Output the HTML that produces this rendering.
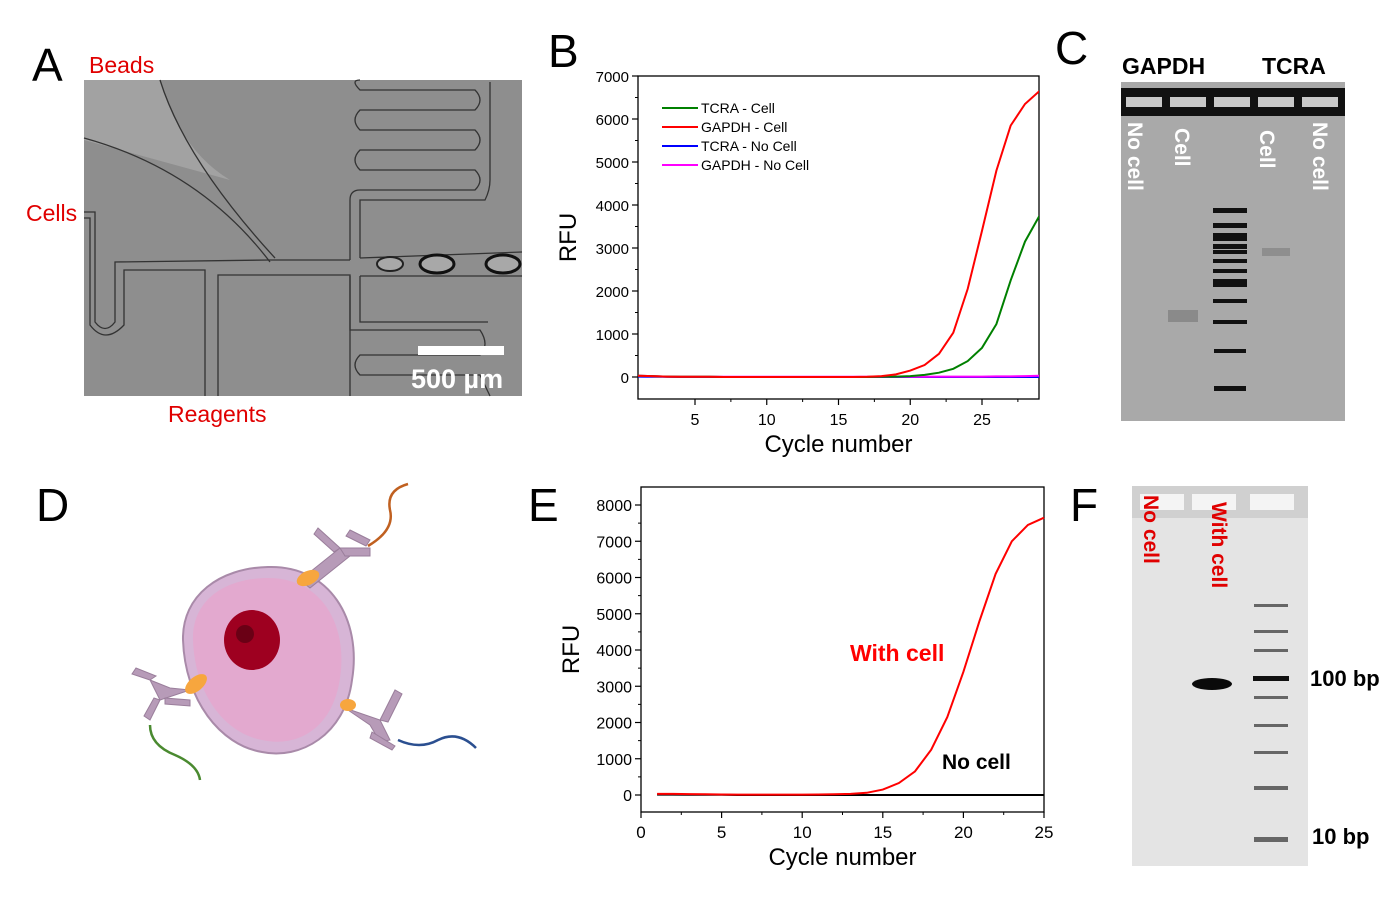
<!DOCTYPE html>
<html><head><meta charset="utf-8"><style>
body{margin:0;background:#fff;width:1398px;height:919px;overflow:hidden;font-family:"Liberation Sans",Arial,sans-serif}
svg text{font-family:"Liberation Sans",Arial,sans-serif}
</style></head><body>
<svg id="fig" width="1398" height="919" viewBox="0 0 1398 919" xmlns="http://www.w3.org/2000/svg">
<!-- Panel A -->
<g>
<text x="32" y="81" font-size="46" fill="#000">A</text>
<text x="89" y="73" font-size="23" fill="#e00000">Beads</text>
<text x="26" y="221" font-size="23" fill="#e00000">Cells</text>
<text x="168" y="422" font-size="23" fill="#e00000">Reagents</text>
<rect x="84" y="80" width="438" height="316" fill="#8e8e8e"/>
<path d="M84,80 L160,80 Q180,150 230,180 L84,140Z" fill="#a2a2a2"/>
<g fill="none" stroke="#333" stroke-width="1.3">
<path d="M160,80 Q185,160 275,258"/>
<path d="M84,138 Q200,170 270,262"/>
<path d="M84,212 L95,212 L95,322 Q105,335 115,322 L115,262 L270,260 L350,260"/>
<path d="M84,218 L90,218 L90,325 Q105,345 124,325 L124,270 L205,270 L205,396"/>
<path d="M218,396 L218,275 L350,275 L350,396"/>
<path d="M350,260 L350,200 Q350,190 360,190 L475,190 Q485,180 475,170 L360,170 Q350,160 360,150 L475,150 Q485,140 475,130 L360,130 Q350,120 360,110 L475,110 Q485,100 475,90 L360,90 Q350,80 360,80"/>
<path d="M360,258 L360,200 L485,200 Q490,190 490,180 L490,82"/>
<path d="M360,258 L522,252 M360,276 L522,276"/>
<path d="M350,276 L350,330 L480,330 Q490,345 480,355 L360,355 Q350,365 360,375 L480,375 L490,396"/>
<path d="M360,276 L360,322 L488,322"/>
</g>
<ellipse cx="437" cy="264" rx="17" ry="9" fill="#a8a8a8" stroke="#111" stroke-width="3"/>
<ellipse cx="503" cy="264" rx="17" ry="9" fill="#a8a8a8" stroke="#111" stroke-width="3"/>
<ellipse cx="390" cy="264" rx="13" ry="7" fill="#a8a8a8" stroke="#222" stroke-width="2"/>
<rect x="418" y="346" width="86" height="9" fill="#fff"/>
<text x="411" y="388" font-size="27" font-weight="bold" fill="#fff">500 µm</text>
</g>

<!-- Panel B -->
<g>
<text x="548" y="67" font-size="46">B</text>
<g id="chartB"></g>
</g>

<!-- Panel C -->
<g>
<text x="1055" y="64" font-size="46">C</text>
<text x="1122" y="74" font-size="23" font-weight="bold">GAPDH</text>
<text x="1262" y="74" font-size="23" font-weight="bold">TCRA</text>
<rect x="1121" y="82" width="224" height="339" fill="#a9a9a9"/>
<rect x="1121" y="88" width="224" height="28" fill="#111"/>
<g fill="#c8c8c8"><rect x="1126" y="97" width="36" height="10"/><rect x="1170" y="97" width="36" height="10"/><rect x="1214" y="97" width="36" height="10"/><rect x="1258" y="97" width="36" height="10"/><rect x="1302" y="97" width="36" height="10"/></g>
<g fill="#fff" font-size="21" font-weight="bold">
<text transform="translate(1128,122) rotate(90)">No cell</text>
<text transform="translate(1175,128) rotate(90)">Cell</text>
<text transform="translate(1260,130) rotate(90)">Cell</text>
<text transform="translate(1313,122) rotate(90)">No cell</text>
</g>
<g fill="#111">
<rect x="1213" y="208" width="34" height="5"/><rect x="1213" y="223" width="34" height="5"/><rect x="1213" y="233" width="34" height="8"/><rect x="1213" y="244" width="34" height="5"/><rect x="1213" y="250" width="34" height="4"/><rect x="1213" y="259" width="34" height="4"/><rect x="1213" y="269" width="34" height="4"/><rect x="1213" y="279" width="34" height="8"/><rect x="1213" y="299" width="34" height="4"/><rect x="1213" y="320" width="34" height="4"/><rect x="1214" y="349" width="32" height="4"/><rect x="1214" y="386" width="32" height="5"/>
</g>
<rect x="1168" y="310" width="30" height="12" fill="#8a8a8a"/>
<rect x="1262" y="248" width="28" height="8" fill="#8e8e8e"/>
</g>

<!-- Panel D -->
<g>
<text x="36" y="521" font-size="46">D</text>
<path d="M268,567 C330,565 362,620 352,680 C345,735 300,760 262,752 C220,745 185,700 183,640 C182,595 220,568 268,567Z" fill="#d7b5d6" stroke="#a98aa9" stroke-width="2"/>
<path d="M268,578 C322,578 348,625 340,678 C333,728 298,748 262,740 C225,733 195,695 193,640 C192,600 225,578 268,578Z" fill="#e3a9cf"/>
<ellipse cx="252" cy="640" rx="28" ry="30" fill="#9e0020"/>
<ellipse cx="245" cy="634" rx="9" ry="9" fill="#6a0015"/>
<g fill="#b79bb8" stroke="#9a7e9b" stroke-width="1">
<path d="M300,580 L340,548 L350,556 L310,588Z"/><path d="M318,528 L340,548 L334,552 L314,534Z"/><path d="M340,548 L370,548 L370,556 L345,556Z"/><path d="M350,530 L370,540 L366,546 L346,536Z"/>
<path d="M190,690 L160,700 L150,680 L170,688Z"/><path d="M150,680 L132,674 L136,668 L156,676Z"/><path d="M160,700 L150,720 L144,716 L154,698Z"/><path d="M165,698 L190,700 L190,706 L165,704Z"/>
<path d="M345,708 L380,720 L390,740 L380,742 L370,725Z"/><path d="M380,720 L395,690 L402,694 L388,722Z"/><path d="M372,732 L395,746 L392,750 L370,738Z"/>
</g>
<ellipse cx="308" cy="578" rx="12" ry="7" fill="#f7a63e" transform="rotate(-25 308 578)"/>
<ellipse cx="196" cy="684" rx="13" ry="7" fill="#f7a63e" transform="rotate(-40 196 684)"/>
<ellipse cx="348" cy="705" rx="8" ry="6" fill="#f7a63e"/>
<path d="M368,546 Q395,530 390,510 Q386,490 408,484" fill="none" stroke="#c06020" stroke-width="2.5"/>
<path d="M150,725 Q150,745 175,755 Q198,765 200,780" fill="none" stroke="#4a8a30" stroke-width="2.5"/>
<path d="M398,740 Q420,750 438,740 Q458,730 476,748" fill="none" stroke="#2b4f90" stroke-width="2.5"/>
</g>

<!-- Panel E -->
<g>
<text x="528" y="521" font-size="46">E</text>
<g id="chartE"></g>
</g>

<!-- Panel F -->
<g>
<text x="1070" y="521" font-size="46">F</text>
<rect x="1132" y="486" width="176" height="380" fill="#e4e4e4"/>
<rect x="1132" y="486" width="176" height="32" fill="#d0d0d0"/>
<g fill="#f4f4f4"><rect x="1140" y="494" width="44" height="16"/><rect x="1192" y="494" width="44" height="16"/><rect x="1250" y="494" width="44" height="16"/></g>
<g fill="#e00000" font-size="21" font-weight="bold">
<text transform="translate(1144,495) rotate(90)">No cell</text>
<text transform="translate(1212,502) rotate(90)">With cell</text>
</g>
<g fill="#666">
<rect x="1254" y="604" width="34" height="3"/><rect x="1254" y="630" width="34" height="3"/><rect x="1254" y="649" width="34" height="3"/><rect x="1253" y="676" width="36" height="5" fill="#111"/><rect x="1254" y="696" width="34" height="3"/><rect x="1254" y="724" width="34" height="3"/><rect x="1254" y="751" width="34" height="3"/><rect x="1254" y="786" width="34" height="4"/><rect x="1254" y="837" width="34" height="5"/>
</g>
<ellipse cx="1212" cy="684" rx="20" ry="6" fill="#0a0a0a"/>
<text x="1310" y="686" font-size="22" font-weight="bold">100 bp</text>
<text x="1312" y="844" font-size="22" font-weight="bold">10 bp</text>
</g>
</svg>
<script>
const NS='http://www.w3.org/2000/svg';
// Chart B data
const bCycles=[1,2,3,4,5,6,7,8,9,10,11,12,13,14,15,16,17,18,19,20,21,22,23,24,25,26,27,28,29];
const bGapdhCell=[30,20,10,5,5,5,0,0,0,0,0,0,0,0,0,0,5,20,60,150,280,540,1030,2050,3400,4800,5850,6350,6650];
const bTcraCell=[30,20,10,5,5,5,0,0,0,0,0,0,0,0,0,0,0,5,10,20,50,100,190,370,680,1230,2250,3150,3750];
const bTcraNoCell=[10,5,5,0,0,0,0,0,0,0,0,0,0,0,0,0,0,0,0,0,0,0,0,0,0,0,0,0,0];
const bGapdhNoCell=[30,20,10,5,5,5,5,5,5,5,5,5,5,5,5,5,5,5,5,5,5,10,10,10,10,15,15,20,30];
const bYTicks=[0,1000,2000,3000,4000,5000,6000,7000];
const bXTicks=[5,10,15,20,25];
const bLegend=['TCRA - Cell','GAPDH - Cell','TCRA - No Cell','GAPDH - No Cell'];
// Chart E data
const eCycles=[1,2,3,4,5,6,7,8,9,10,11,12,13,14,15,16,17,18,19,20,21,22,23,24,25];
const eWithCell=[30,30,25,20,15,10,10,10,10,10,15,20,30,60,150,330,650,1250,2150,3400,4800,6100,7000,7450,7650];
const eNoCell=[10,10,5,5,5,0,0,0,0,0,0,0,0,0,0,0,0,0,0,0,0,0,0,0,0];
const eYTicks=[0,1000,2000,3000,4000,5000,6000,7000,8000];
const eXTicks=[0,5,10,15,20,25];

function mk(tag,attrs,parent,text){const e=document.createElementNS(NS,tag);for(const k in attrs)e.setAttribute(k,attrs[k]);if(text!==undefined)e.textContent=text;parent.appendChild(e);return e;}

function axes(g,c){
  const fr=mk('rect',{x:c.L,y:c.T,width:c.R-c.L,height:c.B-c.T,fill:'none',stroke:'#000','stroke-width':1.3},g);
  
  
  c.yt.forEach(v=>{const y=c.sy(v);
    mk('line',{x1:c.L-6,x2:c.L,y1:y,y2:y,stroke:'#000','stroke-width':1.2},g);
    const t=mk('text',{x:c.L-9,y:y+6,'font-size':c.tf,'text-anchor':'end'},g,v);
    
    
    const ym=c.sy(v+500); if(ym>c.T) mk('line',{x1:c.L-3,x2:c.L,y1:ym,y2:ym,stroke:'#000'},g);
  });
  c.xt.forEach(v=>{const x=c.sx(v);
    mk('line',{x1:x,x2:x,y1:c.B,y2:c.B+6,stroke:'#000','stroke-width':1.2},g);
    const t=mk('text',{x:x,y:c.B+26,'font-size':c.tf+1,'text-anchor':'middle'},g,v);
    
    
    const xm=c.sx(v+2.5); if(xm<c.R) mk('line',{x1:xm,x2:xm,y1:c.B,y2:c.B+3,stroke:'#000'},g);
  });
  const xt=mk('text',{x:(c.L+c.R)/2,y:c.B+53,'font-size':24,'text-anchor':'middle'},g,'Cycle number');
  
  
  const yt=mk('text',{transform:`translate(${c.L-62},${(c.T+c.B)/2}) rotate(-90)`,'font-size':24,'text-anchor':'middle'},g,'RFU');
  
  
}
function line(g,c,xs,ys,col,name){
  const d=xs.map((x,i)=>(i?'L':'M')+c.sx(x).toFixed(1)+','+c.sy(ys[i]).toFixed(1)).join('');
  const p=mk('path',{d:d,fill:'none',stroke:col,'stroke-width':2},g);
  
  
}
// Chart B
(function(){
  const g=document.getElementById('chartB');
  const c={L:638,R:1039,T:76,B:399,tf:15,yt:bYTicks,xt:bXTicks};
  c.sx=v=>637.6+(v-1)*14.35; c.sy=v=>377-v*0.043;
  mk('clipPath',{id:'clipB'},g).appendChild(Object.assign(document.createElementNS(NS,'rect'),{}));
  const cr=g.querySelector('#clipB rect'); cr.setAttribute('x',c.L);cr.setAttribute('y',c.T);cr.setAttribute('width',c.R-c.L);cr.setAttribute('height',c.B-c.T);
  axes(g,c);
  const pg=mk('g',{'clip-path':'url(#clipB)'},g);
  line(pg,c,bCycles,bTcraNoCell,'#0000ff','series-tcra-no-cell');
  line(pg,c,bCycles,bGapdhNoCell,'#ff00ff','series-gapdh-no-cell');
  line(pg,c,bCycles,bTcraCell,'#008000','series-tcra-cell');
  line(pg,c,bCycles,bGapdhCell,'#ff0000','series-gapdh-cell');
  const cols=['#008000','#ff0000','#0000ff','#ff00ff'];
  bLegend.forEach((s,i)=>{const y=108+i*19;
    const lg=mk('g',{},g);
    
    
    mk('line',{x1:662,x2:698,y1:y,y2:y,stroke:cols[i],'stroke-width':2},lg);
    mk('text',{x:701,y:y+5,'font-size':14},lg,s);
  });
})();
// Chart E
(function(){
  const g=document.getElementById('chartE');
  const c={L:641,R:1044,T:487,B:812,tf:16,yt:eYTicks,xt:eXTicks};
  c.sx=v=>641+v*16.12; c.sy=v=>795-v*0.03625;
  axes(g,c);
  line(g,c,eCycles,eNoCell,'#000','series-no-cell');
  line(g,c,eCycles,eWithCell,'#ff0000','series-with-cell');
  const a=mk('text',{x:850,y:661,'font-size':23,'font-weight':'bold',fill:'#ff0000'},g,'With cell');
  
  
  const b=mk('text',{x:942,y:769,'font-size':21,'font-weight':'bold',fill:'#000'},g,'No cell');
  
  
})();
</script>
</body></html>
